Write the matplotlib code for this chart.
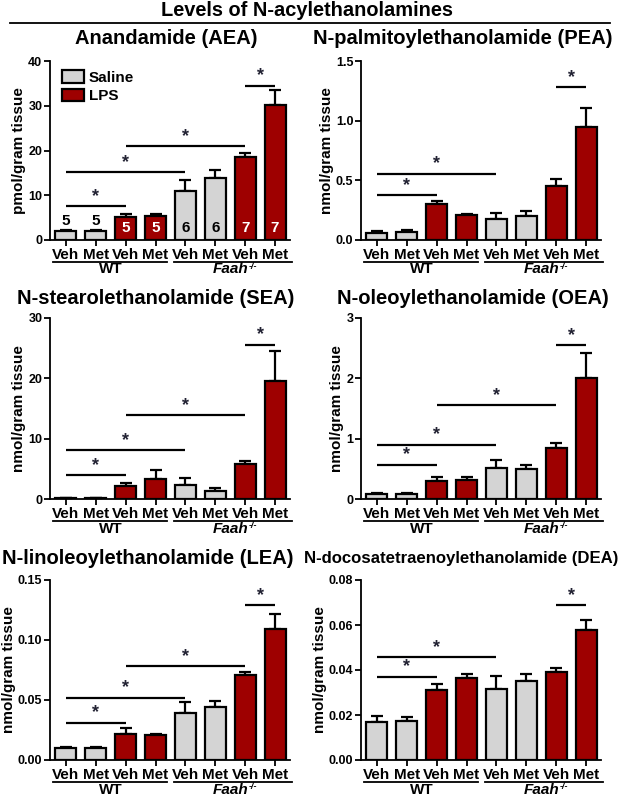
import matplotlib
matplotlib.use("Agg")
import matplotlib.pyplot as plt
from matplotlib.patches import Patch

plt.rcParams['font.family'] = ['Liberation Sans', 'DejaVu Sans']
plt.rcParams['font.weight'] = 'bold'

# ---------------- data ----------------
tick_labels = ['Veh', 'Met', 'Veh', 'Met', 'Veh', 'Met', 'Veh', 'Met']
treatment = ['Saline', 'Saline', 'LPS', 'LPS', 'Saline', 'Saline', 'LPS', 'LPS']
genotypes = ['WT', 'Faah', '-/-']

aea_mean = [1.9, 1.9, 5.1, 5.4, 11.0, 13.8, 18.6, 30.2]
aea_sem = [0.4, 0.4, 0.6, 0.5, 2.4, 1.9, 0.9, 3.4]
aea_n = [5, 5, 5, 5, 6, 6, 7, 7]
aea_sig = [(0, 2, 7.5), (0, 4, 15.1), (2, 6, 20.9), (6, 7, 34.5)]

pea_mean = [0.055, 0.064, 0.305, 0.21, 0.18, 0.20, 0.45, 0.95]
pea_sem = [0.02, 0.02, 0.025, 0.012, 0.05, 0.045, 0.06, 0.16]
pea_sig = [(0, 2, 0.374), (0, 4, 0.554), (6, 7, 1.28)]

sea_mean = [0.1, 0.1, 2.2, 3.3, 2.4, 1.4, 5.8, 19.5]
sea_sem = [0.05, 0.05, 0.5, 1.5, 1.0, 0.4, 0.5, 5.0]
sea_sig = [(0, 2, 3.9), (0, 4, 8.1), (2, 6, 13.9), (6, 7, 25.6)]

oea_mean = [0.09, 0.09, 0.30, 0.31, 0.51, 0.49, 0.85, 2.0]
oea_sem = [0.01, 0.01, 0.06, 0.06, 0.13, 0.08, 0.08, 0.42]
oea_sig = [(0, 2, 0.57), (0, 4, 0.90), (2, 6, 1.55), (6, 7, 2.55)]

lea_mean = [0.0098, 0.0098, 0.0217, 0.0212, 0.039, 0.044, 0.0708, 0.109]
lea_sem = [0.0012, 0.0012, 0.0051, 0.0008, 0.009, 0.005, 0.0022, 0.013]
lea_sig = [(0, 2, 0.031), (0, 4, 0.052), (2, 6, 0.078), (6, 7, 0.129)]

dea_mean = [0.0167, 0.0172, 0.0313, 0.0365, 0.0316, 0.0351, 0.0389, 0.0576]
dea_sem = [0.0027, 0.0021, 0.0027, 0.0019, 0.0058, 0.0033, 0.0018, 0.0048]
dea_sig = [(0, 2, 0.037), (0, 4, 0.0456), (6, 7, 0.0688)]

panels = [
    dict(title='Anandamide (AEA)', mean=aea_mean, sem=aea_sem, sig=aea_sig,
         ylim=40, yticks=[0, 10, 20, 30, 40], fmt='{:.0f}', ylabel='pmol/gram tissue'),
    dict(title='N-palmitoylethanolamide (PEA)', mean=pea_mean, sem=pea_sem, sig=pea_sig,
         ylim=1.5, yticks=[0, 0.5, 1.0, 1.5], fmt='{:.1f}', ylabel='nmol/gram tissue'),
    dict(title='N-stearolethanolamide (SEA)', mean=sea_mean, sem=sea_sem, sig=sea_sig,
         ylim=30, yticks=[0, 10, 20, 30], fmt='{:.0f}', ylabel='nmol/gram tissue'),
    dict(title='N-oleoylethanolamide (OEA)', mean=oea_mean, sem=oea_sem, sig=oea_sig,
         ylim=3, yticks=[0, 1, 2, 3], fmt='{:.0f}', ylabel='nmol/gram tissue'),
    dict(title='N-linoleoylethanolamide (LEA)', mean=lea_mean, sem=lea_sem, sig=lea_sig,
         ylim=0.15, yticks=[0, 0.05, 0.10, 0.15], fmt='{:.2f}', ylabel='nmol/gram tissue'),
    dict(title='N-docosatetraenoylethanolamide (DEA)', mean=dea_mean, sem=dea_sem, sig=dea_sig,
         ylim=0.08, yticks=[0, 0.02, 0.04, 0.06, 0.08], fmt='{:.2f}', ylabel='nmol/gram tissue'),
]

colors = {'Saline': '#d4d4d4', 'LPS': '#9e0000'}

W, H = 622, 797
fig = plt.figure(figsize=(W / 100, H / 100), dpi=100)

col_left = [50, 361]
rows = [(61, 240), (318, 499), (580, 760)]
title_pos = [(166, 39), (463, 39), (156, 298), (473, 298), (148, 558), (461, 558)]
title_size = [14.5, 14.5, 14.5, 14.5, 14.5, 12.1]

fig.text(307 / W, 1 - 10 / H, 'Levels of N-acylethanolamines', ha='center', va='center',
         fontsize=14.4, fontweight='bold')
fig.add_artist(plt.Line2D([10 / W, 610 / W], [1 - 22.5 / H, 1 - 22.5 / H], color='black', lw=1.3))

x = list(range(len(tick_labels)))

for k, p in enumerate(panels):
    r, c = divmod(k, 2)
    top, bot = rows[r]
    ax = fig.add_axes([col_left[c] / W, 1 - bot / H, 240 / W, (bot - top) / H])
    cols = [colors[t] for t in treatment]
    ax.bar(x, p['mean'], width=0.7, color=cols, edgecolor='black', linewidth=1.6, zorder=2)
    ax.errorbar(x, p['mean'], yerr=[[0] * 8, p['sem']], fmt='none', ecolor='black',
                elinewidth=1.6, capsize=4, capthick=1.6, zorder=1)
    ax.set_xlim(-0.53, 7.5)
    ax.set_ylim(0, p['ylim'])
    ax.set_yticks(p['yticks'])
    ax.set_yticklabels([p['fmt'].format(v) for v in p['yticks']], fontsize=9, fontweight='bold')
    ax.set_xticks(x)
    ax.set_xticklabels(tick_labels, fontsize=11, fontweight='bold')
    ax.tick_params(axis='both', direction='out', length=4, width=1.3, pad=1.5)
    for s in ['top', 'right']:
        ax.spines[s].set_visible(False)
    for s in ['left', 'bottom']:
        ax.spines[s].set_linewidth(1.3)
    ax.set_ylabel(p['ylabel'], fontsize=11, fontweight='bold', labelpad=1.5)
    fig.text(title_pos[k][0] / W, 1 - title_pos[k][1] / H, p['title'], ha='center', va='center',
             fontsize=title_size[k], fontweight='bold')

    # significance bars
    for (i, j, yy) in p['sig']:
        ax.plot([i, j], [yy, yy], color='black', lw=1.6, solid_capstyle='butt', zorder=3)
        ax.annotate('*', xy=((i + j) / 2, yy), xytext=(0, 1), textcoords='offset points',
                    ha='center', va='bottom', fontsize=13, fontweight='bold', color='#222233')

    # group lines & labels
    tr = ax.get_xaxis_transform()
    ax.plot([-0.42, 3.4], [-0.122, -0.122], transform=tr, color='black', lw=1.3, clip_on=False)
    ax.plot([3.63, 7.56], [-0.122, -0.122], transform=tr, color='black', lw=1.3, clip_on=False)
    ax.text(1.5, -0.187, genotypes[0], transform=tr, ha='center', va='baseline',
            fontsize=11, fontweight='bold')
    ax.text(6.1, -0.187, genotypes[1], transform=tr, ha='right', va='baseline',
            fontsize=11, fontweight='bold', fontstyle='italic')
    ax.annotate(genotypes[2], xy=(6.1, -0.187), xycoords=tr, xytext=(0.5, 3.5),
                textcoords='offset points', ha='left', va='baseline', fontsize=6.5,
                fontweight='bold', fontstyle='italic', annotation_clip=False)

    if k == 0:
        for xi, (n, t) in enumerate(zip(aea_n, treatment)):
            if xi < 2:
                ax.text(xi, 4.3, str(n), ha='center', va='center', fontsize=11,
                        fontweight='bold', color='black', zorder=4)
            else:
                ax.text(xi, 2.7, str(n), ha='center', va='center', fontsize=11,
                        fontweight='bold', color='white' if t == 'LPS' else 'black', zorder=4)
        handles = [Patch(facecolor=colors['Saline'], edgecolor='black', linewidth=1.6, label='Saline'),
                   Patch(facecolor=colors['LPS'], edgecolor='black', linewidth=1.6, label='LPS')]
        ax.legend(handles=handles, loc='upper left', bbox_to_anchor=(0.01, 1.0), frameon=False,
                  prop={'size': 11, 'weight': 'bold'}, handlelength=1.5, handleheight=0.9,
                  handletextpad=0.3, labelspacing=0.25, borderaxespad=0.2)

fig.savefig('out.png', dpi=100)
